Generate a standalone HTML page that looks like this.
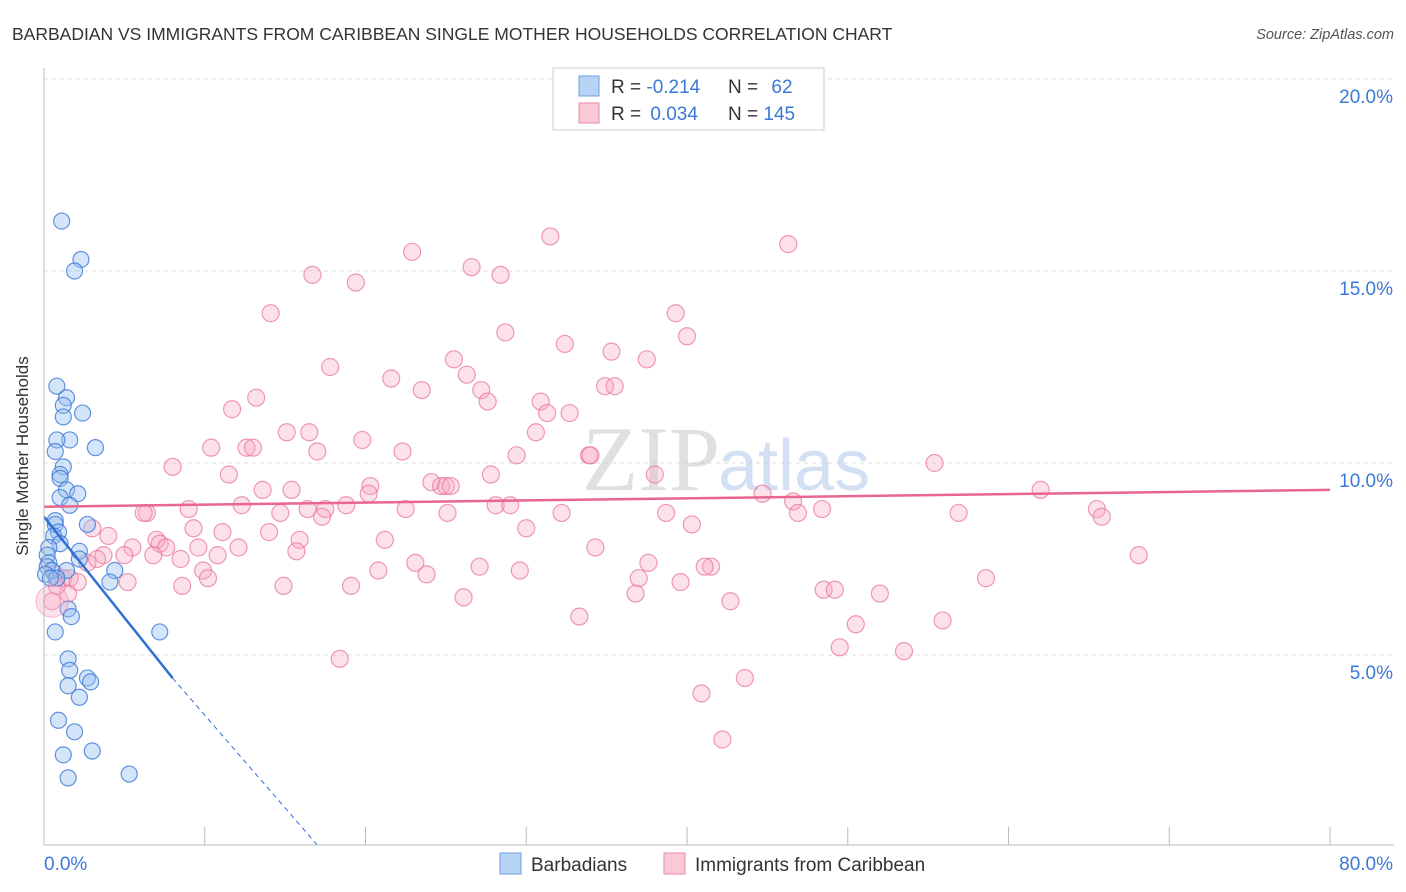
<!DOCTYPE html>
<html><head><meta charset="utf-8">
<style>
body{margin:0;background:#fff;font-family:"Liberation Sans",sans-serif;}
svg{display:block}
</style></head>
<body>
<svg width="1406" height="892" xmlns="http://www.w3.org/2000/svg">
<text x="12" y="40" font-size="17.5" fill="#333">BARBADIAN VS IMMIGRANTS FROM CARIBBEAN SINGLE MOTHER HOUSEHOLDS CORRELATION CHART</text>
<text x="1394" y="39" font-size="14.5" fill="#555" font-style="italic" text-anchor="end">Source: ZipAtlas.com</text>
<g id="grid"></g>
<text x="720" y="490" font-size="92" fill="#c8c8c8" opacity="0.55" text-anchor="end" font-family="Liberation Serif">ZIP</text>
<text x="718" y="490" font-size="72" fill="#b0c8ea" opacity="0.55">atlas</text>
<g id="pts"></g>
<g id="lines"></g>
<g id="axes"></g>
<text x="28" y="456" font-size="17" fill="#333" text-anchor="middle" transform="rotate(-90 28 456)">Single Mother Households</text>
<g>
<rect x="553" y="68" width="271" height="62" fill="#fff" stroke="#ccc"/>
<rect x="579" y="76" width="20" height="20" fill="#b8d4f5" stroke="#6a9fe0"/>
<rect x="579" y="103" width="20" height="20" fill="#fbc8d6" stroke="#eb8aa8"/>
<text x="611" y="93" font-size="19" fill="#333">R = <tspan fill="#3b78d8">-0.214</tspan></text>
<text x="728" y="93" font-size="19" fill="#333">N = <tspan fill="#3b78d8" dx="8">62</tspan></text>
<text x="611" y="120" font-size="19" fill="#333">R = <tspan fill="#3b78d8" dx="4">0.034</tspan></text>
<text x="728" y="120" font-size="19" fill="#333">N = <tspan fill="#3b78d8">145</tspan></text>
</g>
<g>
<rect x="500" y="853" width="21" height="21" fill="#b8d4f5" stroke="#6a9fe0"/>
<text x="531" y="871" font-size="19" fill="#333">Barbadians</text>
<rect x="664" y="853" width="21" height="21" fill="#fbc8d6" stroke="#eb8aa8"/>
<text x="695" y="871" font-size="19" fill="#333">Immigrants from Caribbean</text>
</g>
</svg>
<script>
const NS="http://www.w3.org/2000/svg";
const yTicks=[5,10,15,20];
const yTickLabels=["5.0%","10.0%","15.0%","20.0%"];
const xTicks=[0,10,20,30,40,50,60,70,80];
const xEndLabels=["0.0%","80.0%"];
const blueX=[1.1,2.3,1.9,0.8,1.4,1.2,2.4,1.2,1.6,0.8,3.2,0.7,1.2,1.0,1.0,1.4,2.1,1.0,1.6,0.7,0.7,2.7,0.9,0.6,1.0,0.3,2.2,0.2,2.2,0.3,0.2,4.4,0.5,1.4,0.1,0.8,0.4,4.1,1.5,1.7,0.7,7.2,1.5,1.6,2.7,1.5,2.9,2.2,0.9,1.9,1.2,3.0,1.5,5.3];
const blueY=[16.3,15.3,15.0,12.0,11.7,11.5,11.3,11.2,10.6,10.6,10.4,10.3,9.9,9.7,9.6,9.3,9.2,9.1,8.9,8.5,8.4,8.4,8.2,8.1,7.9,7.8,7.7,7.6,7.5,7.4,7.3,7.2,7.2,7.2,7.1,7.0,7.0,6.9,6.2,6.0,5.6,5.6,4.9,4.6,4.4,4.2,4.3,3.9,3.3,3.0,2.4,2.5,1.8,1.9];
const pinkX=[46.3,31.5,22.9,26.6,28.4,16.7,19.4,14.1,39.3,28.7,40.0,32.4,35.3,37.5,25.5,17.8,26.3,21.6,34.9,35.5,23.5,27.2,13.2,27.6,30.9,11.7,31.3,32.7,16.5,15.1,30.6,10.4,19.8,12.6,13.0,17.0,22.3,33.9,34.0,29.4,55.4,8.0,11.5,27.8,38.0,24.1,24.7,25.0,20.3,25.3,13.6,15.4,20.2,62.0,44.7,12.3,46.6,9.0,6.4,6.2,28.1,29.0,22.5,25.1,14.7,16.4,17.5,18.8,17.3,32.2,38.7,46.9,48.4,56.9,65.5,65.8,3.0,9.3,11.1,14.0,30.0,40.3,4.0,7.0,7.2,15.9,21.2,5.5,9.6,12.1,7.6,15.7,10.8,34.3,3.7,5.0,6.8,8.5,68.1,37.6,23.1,20.8,27.1,29.6,41.5,41.1,9.9,23.8,10.2,37.0,39.6,58.6,5.2,8.6,14.9,19.1,48.5,49.2,52.0,36.8,26.1,42.7,33.3,50.5,55.9,49.5,53.5,18.4,43.6,40.9,42.2,0.5,0.7,1.2,1.6,2.1,1.5,0.8,2.7,3.3];
const pinkY=[15.7,15.9,15.5,15.1,14.9,14.9,14.7,13.9,13.9,13.4,13.3,13.1,12.9,12.7,12.7,12.5,12.3,12.2,12.0,12.0,11.9,11.9,11.7,11.6,11.6,11.4,11.3,11.3,10.8,10.8,10.8,10.4,10.6,10.4,10.4,10.3,10.3,10.2,10.2,10.2,10.0,9.9,9.7,9.7,9.7,9.5,9.4,9.4,9.4,9.4,9.3,9.3,9.2,9.3,9.2,8.9,9.0,8.8,8.7,8.7,8.9,8.9,8.8,8.7,8.7,8.8,8.8,8.9,8.6,8.7,8.7,8.7,8.8,8.7,8.8,8.6,8.3,8.3,8.2,8.2,8.3,8.4,8.1,8.0,7.9,8.0,8.0,7.8,7.8,7.8,7.8,7.7,7.6,7.8,7.6,7.6,7.6,7.5,7.6,7.4,7.4,7.2,7.3,7.2,7.3,7.3,7.2,7.1,7.0,7.0,6.9,7.0,6.9,6.8,6.8,6.8,6.7,6.7,6.6,6.6,6.5,6.4,6.0,5.8,5.9,5.2,5.1,4.9,4.4,4.0,2.8,6.4,7.1,7.0,7.0,6.9,6.6,6.8,7.4,7.5];
const blueLine=[0,8.6,8,4.4,17,0.05];
const pinkLine=[0,8.86,80,9.3];
const X0=44,X1=1330,Y0=847,Y1=79;
const sx=v=>X0+(X1-X0)*v/80, sy=v=>Y0-(Y0-Y1)*v/20;
function mk(tag,at,parent){const e=document.createElementNS(NS,tag);for(const k in at)e.setAttribute(k,at[k]);parent.appendChild(e);return e;}
const grid=document.getElementById('grid'),axes=document.getElementById('axes'),pts=document.getElementById('pts'),lines=document.getElementById('lines');
yTicks.forEach((t,i)=>{
 const l=mk('line',{x1:44,x2:1394,y1:sy(t),y2:sy(t),stroke:'#ddd','stroke-dasharray':'4 4'},grid);
 
 
 const tx=mk('text',{x:1393,y:sy(t)+24,'font-size':19,fill:'#3b78d8','text-anchor':'end'},axes);
 tx.textContent=yTickLabels[i];
 
 
});
const ax=mk('line',{x1:44,x2:1394,y1:845,y2:845,stroke:'#bbb'},axes);


const ay=mk('line',{x1:44,x2:44,y1:68,y2:845,stroke:'#bbb'},axes);


xTicks.forEach(t=>{
 const l=mk('line',{x1:sx(t),x2:sx(t),y1:827,y2:845,stroke:'#bbb'},axes);
 
 
});
const xl0=mk('text',{x:44,y:870,'font-size':19,fill:'#3b78d8'},axes);xl0.textContent=xEndLabels[0];


const xl1=mk('text',{x:1393,y:870,'font-size':19,fill:'#3b78d8','text-anchor':'end'},axes);xl1.textContent=xEndLabels[1];


pinkX.forEach((x,i)=>{
 const c=mk('circle',{cx:sx(x),cy:sy(pinkY[i]),r:8.5,fill:'rgba(248,170,195,0.35)',stroke:'rgba(232,120,155,0.75)','stroke-width':1.2},pts);
 
 
});
blueX.forEach((x,i)=>{
 const c=mk('circle',{cx:sx(x),cy:sy(blueY[i]),r:8,fill:'rgba(150,190,240,0.4)',stroke:'rgba(60,120,215,0.8)','stroke-width':1.2},pts);
 
 
});
const big=mk('circle',{cx:sx(0.5),cy:sy(6.4),r:16,fill:'rgba(248,170,195,0.35)',stroke:'rgba(232,120,155,0.5)'},pts);


const bl=mk('line',{x1:sx(blueLine[0]),y1:sy(blueLine[1]),x2:sx(blueLine[2]),y2:sy(blueLine[3]),stroke:'#2f6fd6','stroke-width':2.5},lines);


const bd=mk('line',{x1:sx(blueLine[2]),y1:sy(blueLine[3]),x2:sx(blueLine[4]),y2:sy(blueLine[5]),stroke:'#2f6fd6','stroke-width':1,'stroke-dasharray':'5 4'},lines);


const pl=mk('line',{x1:sx(pinkLine[0]),y1:sy(pinkLine[1]),x2:sx(pinkLine[2]),y2:sy(pinkLine[3]),stroke:'#e8668f','stroke-width':2.5},lines);


</script>
</body></html>
